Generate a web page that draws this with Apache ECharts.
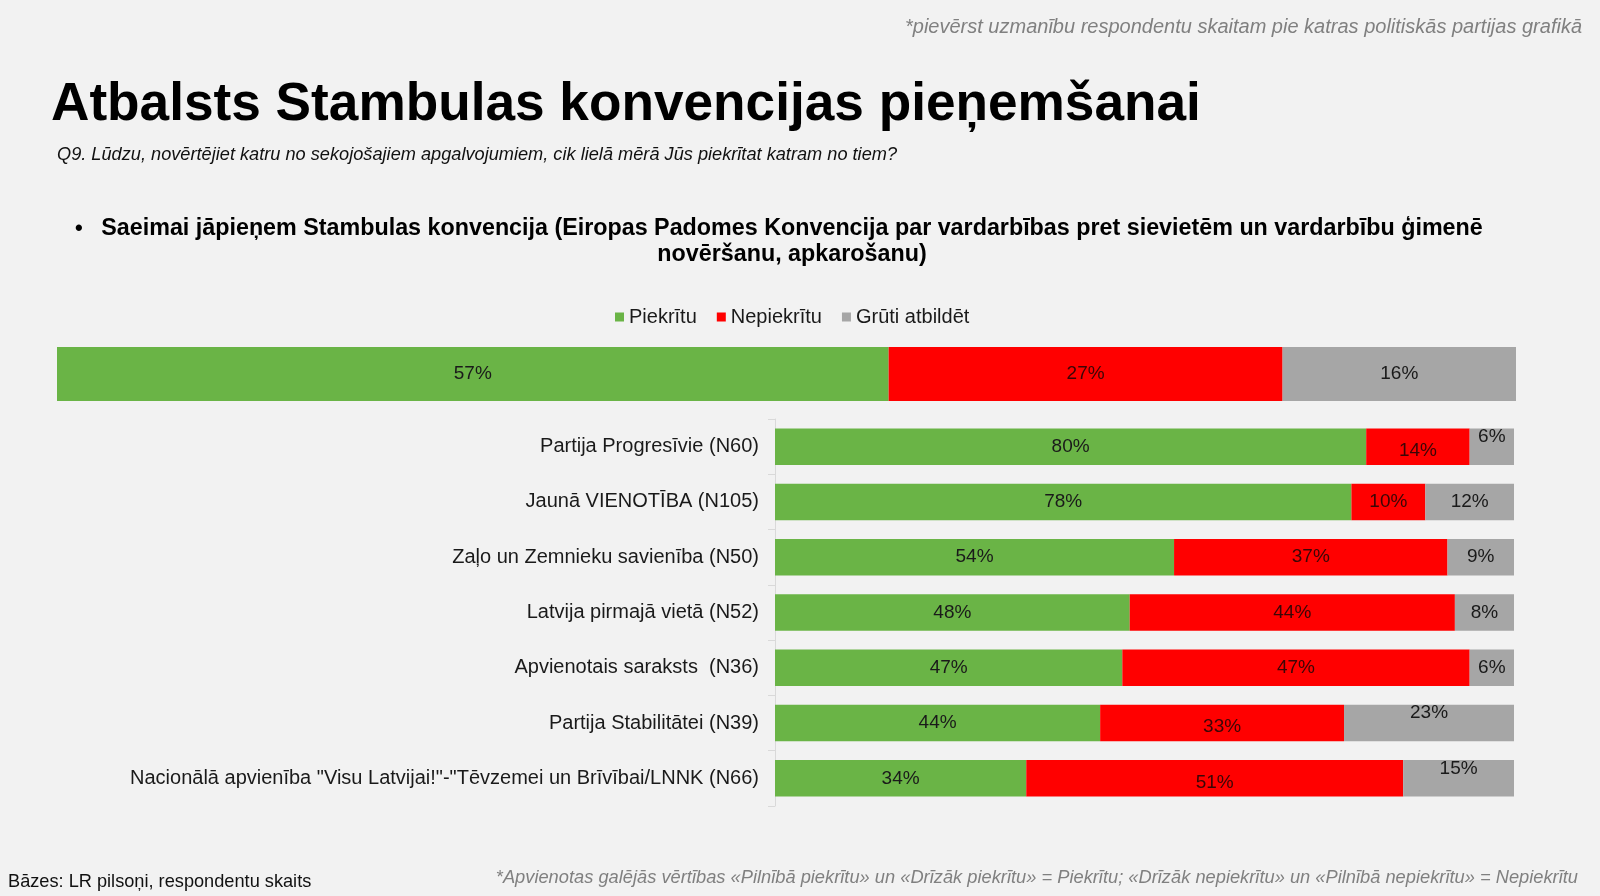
<!DOCTYPE html>
<html>
<head>
<meta charset="utf-8">
<script src="https://cdn.jsdelivr.net/npm/echarts@6/dist/echarts.min.js"></script>
<style>
  html, body { margin: 0; padding: 0; background: #f2f2f2; }
  #chart { width: 1600px; height: 896px; }
</style>
</head>
<body>
<div id="chart"></div>
<script>
// data
const seriesNames = ['Piekrītu', 'Nepiekrītu', 'Grūti atbildēt'];

const totalAgree = [57];
const totalDisagree = [27];
const totalHard = [16];

const parties = [
  'Partija Progresīvie (N60)',
  'Jaunā VIENOTĪBA (N105)',
  'Zaļo un Zemnieku savienība (N50)',
  'Latvija pirmajā vietā (N52)',
  'Apvienotais saraksts  (N36)',
  'Partija Stabilitātei (N39)',
  'Nacionālā apvienība "Visu Latvijai!"-"Tēvzemei un Brīvībai/LNNK (N66)'
];
const partyAgree = [80, 78, 54, 48, 47, 44, 34];
const partyDisagree = [14, 10, 37, 44, 47, 33, 51];
const partyHard = [6, 12, 9, 8, 6, 23, 15];

const FONT = '"Liberation Sans", Arial, sans-serif';
const colors = ['#6AB446', '#FF0000', '#A6A6A6'];
const labelColors = ['#1a1a1a', '#3a0606', '#1a1a1a'];

// rows whose labels were nudged by hand in the original
const shiftedRows = [0, 5, 6];
const shift = (arr, dy) => arr.map((v, i) =>
  shiftedRows.includes(i) ? { value: v, label: { offset: [0, dy] } } : v);

const chart = echarts.init(document.getElementById('chart'));

const makeSeries = (data, idx, axisIdx, barWidth) => ({
  name: seriesNames[idx],
  type: 'bar',
  stack: 'g' + axisIdx,
  xAxisIndex: axisIdx,
  yAxisIndex: axisIdx,
  barWidth: barWidth,
  data: data,
  itemStyle: { color: colors[idx] },
  label: {
    show: true,
    position: 'inside',
    formatter: '{c}%',
    fontFamily: FONT,
    fontSize: 19,
    color: labelColors[idx]
  },
  emphasis: { disabled: true }
});

const text = (x, y, str, size, opts) => ({
  type: 'text',
  x: x,
  y: y,
  style: Object.assign({
    text: str,
    fontFamily: FONT,
    fontSize: size,
    fill: '#000',
    verticalAlign: 'middle',
    align: 'left'
  }, opts || {})
});

const option = {
  backgroundColor: '#f2f2f2',
  animation: false,
  legend: {
    data: seriesNames,
    left: 610,
    top: 302,
    icon: 'rect',
    itemWidth: 9,
    itemHeight: 9,
    itemGap: 20,
    textStyle: { fontFamily: FONT, fontSize: 20, color: '#1a1a1a' }
  },
  grid: [
    { left: 57, right: 84, top: 347, height: 54 },
    { left: 775, right: 86, top: 419, height: 387 }
  ],
  xAxis: [
    { gridIndex: 0, type: 'value', min: 0, max: 100, show: false },
    { gridIndex: 1, type: 'value', min: 0, max: 100, show: false }
  ],
  yAxis: [
    { gridIndex: 0, type: 'category', data: ['Kopā'], show: false },
    {
      gridIndex: 1,
      type: 'category',
      data: parties,
      inverse: true,
      axisLine: { show: true, lineStyle: { color: '#d9d9d9', width: 1 } },
      axisTick: { show: true, length: 7, lineStyle: { color: '#d9d9d9' } },
      axisLabel: { fontFamily: FONT, fontSize: 20, color: '#1a1a1a', margin: 16 }
    }
  ],
  series: [
    makeSeries(totalAgree, 0, 0, '100%'),
    makeSeries(totalDisagree, 1, 0, '100%'),
    makeSeries(totalHard, 2, 0, '100%'),
    makeSeries(partyAgree, 0, 1, '66%'),
    makeSeries(shift(partyDisagree, 4), 1, 1, '66%'),
    makeSeries(shift(partyHard, -10), 2, 1, '66%')
  ],
  graphic: [
    text(1582, 27, '*pievērst uzmanību respondentu skaitam pie katras politiskās partijas grafikā', 20,
      { align: 'right', fill: '#808080', fontStyle: 'italic' }),
    text(51, 105, 'Atbalsts Stambulas konvencijas pieņemšanai', 53.2, { fontWeight: 'bold' }),
    text(57, 155, 'Q9. Lūdzu, novērtējiet katru no sekojošajiem apgalvojumiem, cik lielā mērā Jūs piekrītat katram no tiem?', 18.2,
      { fontStyle: 'italic', fill: '#111' }),
    text(75, 229, '•', 22, { fontWeight: 'bold' }),
    text(792, 229, 'Saeimai jāpieņem Stambulas konvencija (Eiropas Padomes Konvencija par vardarbības pret sievietēm un vardarbību ģimenē', 23.3,
      { fontWeight: 'bold', align: 'center' }),
    text(792, 255, 'novēršanu, apkarošanu)', 23.3, { fontWeight: 'bold', align: 'center' }),
    text(8, 882, 'Bāzes: LR pilsoņi, respondentu skaits', 18.2, { fill: '#111' }),
    text(1578, 878, '*Apvienotas galējās vērtības «Pilnībā piekrītu» un «Drīzāk piekrītu» = Piekrītu; «Drīzāk nepiekrītu» un «Pilnībā nepiekrītu» = Nepiekrītu', 18.3,
      { align: 'right', fill: '#808080', fontStyle: 'italic' })
  ]
};

chart.setOption(option);
</script>
</body>
</html>
